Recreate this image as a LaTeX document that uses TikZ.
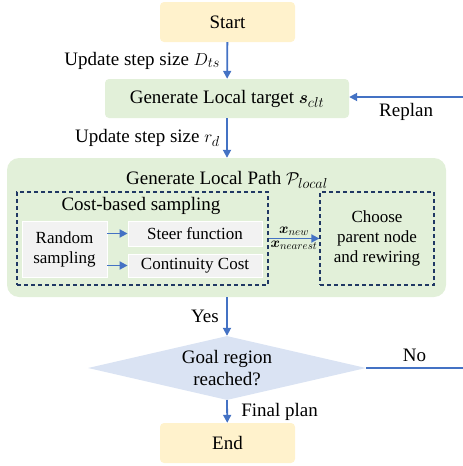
\documentclass[tikz,border=0pt]{standalone}
\usepackage{fontspec}
\setmainfont{Liberation Serif}
\usepackage{amsmath,bm}
\usetikzlibrary{shapes.geometric,arrows.meta}
\definecolor{flowblue}{HTML}{4472C4}
\definecolor{termfill}{HTML}{FFF2CC}
\definecolor{stepfill}{HTML}{E2F0D9}
\definecolor{subfill}{HTML}{F2F2F2}
\definecolor{askfill}{HTML}{DAE3F3}
\definecolor{dashline}{HTML}{203864}
\tikzset{
  big/.style={font=\fontsize{19}{22}\selectfont},
  small/.style={font=\fontsize{17}{20}\selectfont},
  tiny/.style={font=\fontsize{15}{18}\selectfont},
  term/.style={big, fill=termfill, rounded corners=4pt, minimum width=135pt, minimum height=40pt},
  stepbox/.style={big, fill=stepfill, rounded corners=4pt},
  subbox/.style={small, fill=subfill, draw=white, line width=0.8pt, align=center, inner sep=0pt},
  dashbox/.style={draw=dashline, line width=1.3pt, dash pattern=on 4pt off 3pt},
  flow/.style={draw=flowblue, line width=1.8pt, -{Triangle[length=8pt,width=8pt]}},
}
\begin{document}
\begin{tikzpicture}[x=1pt,y=-1pt]
\useasboundingbox (0,0) rectangle (463,466);
% terminals and steps
\node[term] (start) at (227.5,22){Start};
\node[stepbox, minimum width=244pt, minimum height=39pt] (target) at (227,98.5){Generate Local target $\bm{s}_{clt}$};
\node[stepbox, rounded corners=12pt, minimum width=439pt, minimum height=139pt] (pathbox) at (226.5,227.5){};
\node[big] (pathtitle) at (227,180){Generate Local Path $\mathcal{P}_{local}$};
% sampling part
\node[dashbox, minimum width=251pt, minimum height=93pt] (costbox) at (142.5,238.5){};
\node[big] (costtitle) at (141,206){Cost-based sampling};
\node[subbox, minimum width=85pt, minimum height=56pt] (random) at (64.5,249){Random\\sampling};
\node[subbox, minimum width=134pt, minimum height=25pt] (steer) at (195,233.5){Steer function};
\node[subbox, minimum width=134pt, minimum height=23pt] (cont) at (195,265.5){Continuity Cost};
\node[dashbox, small, align=center, minimum width=114pt, minimum height=93pt] (rewire) at (377,238.5){Choose\\parent node\\and rewiring};
% decision
\node[diamond, fill=askfill, minimum width=278pt, minimum height=64pt, inner sep=0pt] (goal) at (227,368){};
\node[big, align=center] (goaltext) at (227,368){Goal region\\reached?};
\node[term] (end) at (227.5,443){End};
% free ends at the border
\coordinate (replanin) at (463,97);
\coordinate (noout) at (463,368);
% connectors
\draw[flow] (start) -- node[big, left, xshift=-3pt]{Update step size $D_{ts}$} (target);
\draw[flow] (replanin) -- node[big, below, yshift=-2pt]{Replan} (target.east |- replanin);
\draw[flow] (target) -- node[big, left, xshift=-3pt]{Update step size $r_d$} (pathbox.north -| target);
\draw[flow] (random.east |- steer) -- (steer.west);
\draw[flow] (random.east |- cont) -- (cont.west);
\draw[flow] (costbox.east) -- node[tiny, above, inner sep=2pt]{$\bm{x}_{new}$} node[tiny, below, inner sep=2pt]{$\bm{x}_{nearest}$} (rewire.west);
\draw[flow] (pathbox.south -| target) -- node[big, left, xshift=-4pt]{Yes} (goal.north);
\draw[draw=flowblue, line width=1.8pt] (goal.east) -- node[big, above, yshift=2pt]{No} (noout);
\draw[flow] (goal.south) -- node[big, right, xshift=10pt]{Final plan} (end);
\end{tikzpicture}
\end{document}
